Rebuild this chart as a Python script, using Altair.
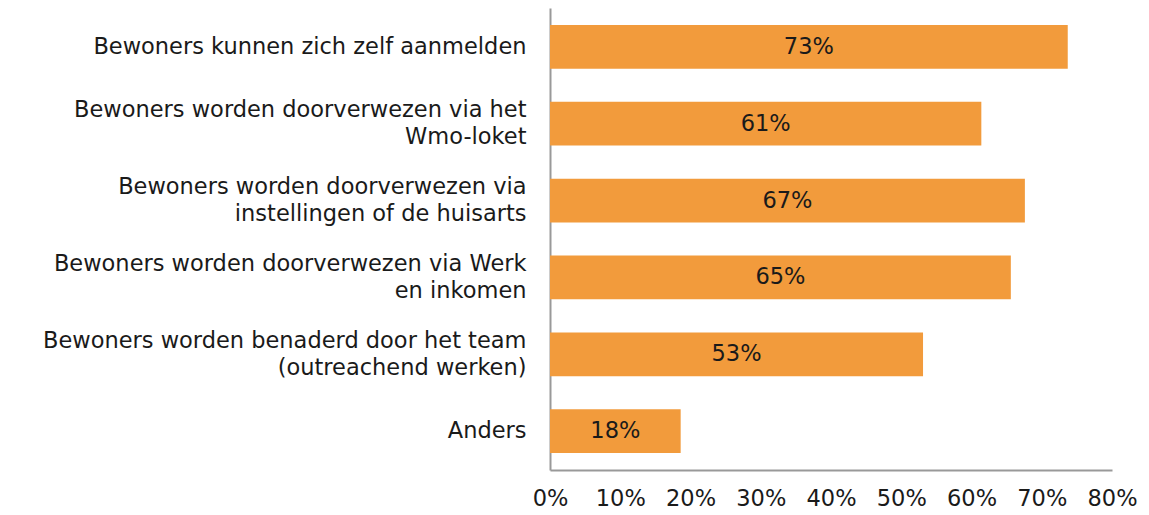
import altair as alt
import pandas as pd

categories = [
    "Bewoners kunnen zich zelf aanmelden",
    "Bewoners worden doorverwezen via het|Wmo-loket",
    "Bewoners worden doorverwezen via|instellingen of de huisarts",
    "Bewoners worden doorverwezen via Werk|en inkomen",
    "Bewoners worden benaderd door het team|(outreachend werken)",
    "Anders",
]
values = [73.7, 61.4, 67.6, 65.6, 53.1, 18.6]
value_labels = ["73%", "61%", "67%", "65%", "53%", "18%"]

df = pd.DataFrame({"cat": categories, "value": values, "label": value_labels})

FONT = "DejaVu Sans"
ORANGE = "#F29B3C"
TEXT = "#1a1a1a"
FS = 22.5

base = alt.Chart(df).encode(
    y=alt.Y(
        "cat:N",
        sort=categories,
        scale=alt.Scale(paddingInner=0.43, paddingOuter=0.22),
        axis=alt.Axis(
            title=None,
            labelExpr="split(datum.label, '|')",
            labelFont=FONT,
            labelFontSize=FS,
            labelColor=TEXT,
            labelLineHeight=27,
            labelPadding=24,
            labelLimit=600,
            labelOffset={"expr": "indexof(datum.value, '|') >= 0 ? -13.5 : 0"},
            ticks=False,
            grid=False,
            domainColor="#999999",
            domainWidth=2,
        ),
    )
)

bars = base.mark_bar(color=ORANGE).encode(
    x=alt.X(
        "value:Q",
        scale=alt.Scale(domain=[0, 80], nice=False),
        axis=alt.Axis(
            title=None,
            values=[0, 10, 20, 30, 40, 50, 60, 70, 80],
            labelExpr="datum.value + '%'",
            labelFont=FONT,
            labelFontSize=FS,
            labelColor=TEXT,
            labelPadding=17,
            ticks=False,
            grid=False,
            domainColor="#999999",
            domainWidth=2,
            labelFlush=False,
        ),
    )
)

texts = base.transform_calculate(mid="datum.value / 2").mark_text(
    font=FONT, fontSize=FS, color=TEXT, align="center", baseline="middle"
).encode(x="mid:Q", text="label:N")

chart = (
    alt.layer(bars, texts)
    .properties(
        width=562,
        height=462,
        background="white",
        autosize=alt.AutoSizeParams(type="none"),
        padding={"left": 550, "top": 8, "right": 37, "bottom": 45},
    )
    .configure_view(stroke=None)
)

chart.save("out.html", embed_options={"renderer": "svg", "actions": False})
